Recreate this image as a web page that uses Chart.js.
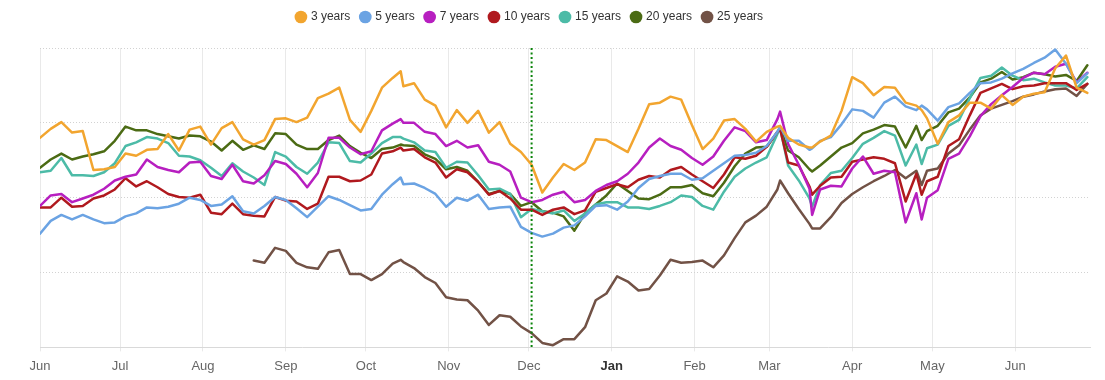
<!DOCTYPE html>
<html>
<head>
<meta charset="utf-8">
<script src="https://cdn.jsdelivr.net/npm/chart.js@4.4.0/dist/chart.umd.min.js"></script>
<style>
html,body{margin:0;padding:0;background:#ffffff;}
canvas{display:block;}
</style>
</head>
<body>
<canvas id="c" width="1105" height="380"></canvas>
<script>
// ---- data (day offsets from 1 June) ----
const days = [0,4,8,12,16,20,24,28,32,36,40,44,48,52,56,60,64,68,72,76,80,84,88,92,96,100,104,108,112,116,120,124,128,132,135,136,140,144,148,152,156,160,164,168,172,176,180,184,188,192,196,200,204,208,212,216,220,224,228,232,236,240,244,248,252,256,260,264,268,272,276,277,280,284,288,289,292,296,300,304,308,312,316,320,324,328,330,332,336,340,344,348,352,356,360,364,368,372,376,380,384,388,392];

const monthDays = [0,30,61,92,122,153,183,214,245,273,304,334,365];
const monthLabels = ['Jun','Jul','Aug','Sep','Oct','Nov','Dec','Jan','Feb','Mar','Apr','May','Jun'];
const boldLabel = 'Jan';
const markerDay = 184;

const seriesNames = ['3 years','5 years','7 years','10 years','15 years','20 years','25 years'];

const y3 = [2.80,2.92,3.01,2.87,2.89,2.37,2.38,2.41,2.59,2.56,2.64,2.65,2.85,2.63,2.91,2.95,2.71,2.93,3.01,2.78,2.71,2.77,3.05,3.06,3.01,3.07,3.33,3.39,3.47,3.04,2.88,3.16,3.47,3.60,
  3.69,
  3.49,3.53,3.31,3.23,2.94,3.17,3.00,3.16,2.87,3.01,2.72,2.61,2.44,2.07,2.27,2.45,2.37,2.47,2.78,2.77,2.69,2.61,2.92,3.25,3.27,3.35,3.31,2.97,2.65,2.79,3.03,3.05,2.92,2.75,2.88,2.95,
  2.96,
  2.80,2.71,2.67,
  2.67,
  2.75,2.83,3.16,3.61,3.53,3.37,3.48,3.47,3.27,3.23,
  3.17,
  3.06,2.72,3.01,3.10,3.27,3.27,3.19,3.37,3.24,3.35,3.39,3.41,3.73,3.90,3.47,3.40];

const y5 = [1.52,1.69,1.77,1.71,1.77,1.71,1.66,1.67,1.75,1.79,1.87,1.86,1.88,1.92,2.00,1.97,1.89,1.91,2.02,1.82,1.79,1.89,2.01,1.97,1.86,1.74,1.88,2.02,1.97,1.90,1.83,1.85,2.04,2.18,
  2.27,
  2.18,2.19,2.13,2.05,1.88,2.00,1.96,2.04,1.85,1.87,1.88,1.61,1.53,1.48,1.52,1.60,1.63,1.75,1.89,1.90,1.84,1.95,2.13,2.25,2.29,2.32,2.32,2.24,2.26,2.36,2.46,2.56,2.57,2.60,2.69,2.88,
  2.95,
  2.76,2.76,2.64,
  2.66,
  2.76,2.81,2.98,3.18,3.16,3.07,3.27,3.35,3.22,3.17,
  3.23,
  3.18,3.03,3.21,3.26,3.40,3.53,3.54,3.59,3.66,3.72,3.80,3.87,3.98,3.79,3.53,3.66];

const y7 = [1.89,2.03,2.05,1.94,1.99,2.04,2.12,2.23,2.28,2.31,2.51,2.41,2.37,2.34,2.47,2.48,2.29,2.25,2.44,2.22,2.19,2.30,2.49,2.45,2.32,2.14,2.33,2.80,2.80,2.67,2.58,2.62,2.90,2.99,
  3.05,
  3.00,3.00,2.88,2.85,2.69,2.76,2.67,2.70,2.48,2.44,2.35,2.00,1.94,1.97,2.04,2.08,1.94,1.97,2.09,2.17,2.22,2.32,2.47,2.67,2.79,2.69,2.64,2.53,2.44,2.55,2.76,2.94,2.89,2.74,2.77,3.05,
  3.15,
  2.72,2.44,2.12,
  1.77,
  2.11,2.16,2.15,2.39,2.55,2.32,2.36,2.34,1.67,2.06,
  1.71,
  2.00,2.10,2.52,2.59,2.82,3.09,3.25,3.37,3.48,3.60,3.67,3.65,3.75,3.79,3.54,3.67];

const y10 = [1.87,1.87,2.00,1.88,1.89,1.99,2.03,2.11,2.26,2.15,2.22,2.14,2.05,2.01,2.00,2.04,1.80,1.78,1.92,1.78,1.76,1.75,2.01,1.96,1.95,1.85,1.92,2.28,2.28,2.22,2.23,2.31,2.59,2.62,
  2.67,
  2.63,2.65,2.54,2.47,2.27,2.38,2.34,2.21,2.04,2.09,1.99,1.84,1.84,1.77,1.84,1.87,1.78,1.83,2.08,2.13,2.18,2.14,2.24,2.29,2.27,2.37,2.41,2.31,2.22,2.13,2.31,2.54,2.52,2.56,2.68,2.88,
  2.92,
  2.47,2.43,2.15,
  2.04,
  2.16,2.27,2.28,2.48,2.51,2.54,2.52,2.46,1.95,2.32,
  2.04,
  2.22,2.28,2.69,2.78,3.10,3.40,3.46,3.52,3.45,3.49,3.50,3.53,3.53,3.53,3.44,3.52];

const y15 = [2.34,2.36,2.53,2.30,2.30,2.29,2.34,2.46,2.69,2.74,2.81,2.79,2.73,2.56,2.55,2.50,2.40,2.29,2.46,2.35,2.27,2.17,2.61,2.55,2.41,2.32,2.47,2.74,2.73,2.49,2.47,2.59,2.73,2.81,
  2.81,
  2.79,2.74,2.63,2.61,2.40,2.48,2.47,2.30,2.11,2.12,2.05,1.74,1.85,1.82,1.79,1.83,1.69,1.79,1.91,1.94,1.94,1.87,1.87,1.85,1.89,1.94,2.03,2.01,1.89,1.84,2.08,2.28,2.39,2.47,2.54,2.85,
  2.93,
  2.43,2.23,1.99,
  1.88,
  2.17,2.33,2.36,2.53,2.72,2.80,2.89,2.83,2.43,2.71,
  2.45,
  2.66,2.71,2.96,3.04,3.33,3.60,3.63,3.74,3.63,3.57,3.59,3.54,3.50,3.50,3.46,3.61];

const y20 = [2.40,2.51,2.59,2.51,2.55,2.58,2.62,2.76,2.95,2.90,2.90,2.85,2.82,2.79,2.83,2.82,2.75,2.63,2.76,2.64,2.70,2.65,2.86,2.85,2.71,2.65,2.65,2.77,2.83,2.69,2.60,2.53,2.65,2.67,
  2.71,
  2.70,2.69,2.58,2.52,2.38,2.41,2.36,2.21,2.05,2.09,2.05,1.89,1.94,1.82,1.80,1.75,1.56,1.79,1.91,2.03,2.19,2.09,1.99,1.98,2.04,2.14,2.14,2.17,2.06,2.02,2.20,2.42,2.59,2.67,2.68,2.87,
  2.94,
  2.63,2.54,2.38,
  2.35,
  2.43,2.55,2.67,2.73,2.86,2.91,2.97,2.95,2.67,2.96,
  2.77,
  2.89,2.96,3.14,3.19,3.34,3.54,3.59,3.68,3.58,3.61,3.67,3.65,3.62,3.64,3.56,3.77];

const y25 = [null,null,null,null,null,null,null,null,null,null,null,null,null,null,null,null,null,null,null,null,
  1.16,1.13,1.33,1.29,1.13,1.07,1.05,1.27,1.30,0.98,0.98,0.90,0.98,1.12,
  1.17,
  1.14,1.06,0.94,0.86,0.67,0.64,0.63,0.49,0.30,0.43,0.41,0.28,0.19,0.06,0.03,0.11,0.11,0.27,0.63,0.72,0.95,0.88,0.76,0.78,0.96,1.17,1.13,1.14,1.16,1.07,1.23,1.46,1.67,1.76,1.88,2.11,
  2.23,
  2.06,1.85,1.65,
  1.59,
  1.59,1.74,1.93,2.05,2.14,2.22,2.29,2.37,2.26,2.36,
  2.17,
  2.36,2.39,2.59,2.70,2.91,3.10,3.19,3.24,3.29,3.35,3.38,3.42,3.45,3.46,3.36,3.52];

const seriesValues = [y3, y5, y7, y10, y15, y20, y25];

// ---- styles ----
const colors = ['#f2a52f','#6ba3e3','#b71fc0','#b0191e','#4cbba7','#4b6b14','#725246'];
const LEGEND_DX = -35;
const LEGEND_EXTRA = 15;

Chart.defaults.font.family = '"Liberation Sans", Arial, Helvetica, sans-serif';

const legendTweak = {
  id: 'legendTweak',
  beforeLayout(chart) {
    const lg = chart.legend;
    if (lg && !lg._patched) {
      const orig = lg.fit;
      lg.fit = function () { orig.call(this); this.height += LEGEND_EXTRA; };
      lg._patched = true;
    }
  },
  afterLayout(chart) {
    const lg = chart.legend;
    if (lg) { lg.left += LEGEND_DX; lg.right += LEGEND_DX; }
  }
};

const markerLine = {
  id: 'markerLine',
  afterDatasetsDraw(chart) {
    const {ctx, chartArea, scales} = chart;
    const px = scales.x.getPixelForValue(markerDay);
    ctx.save();
    ctx.strokeStyle = '#0b840b';
    ctx.lineWidth = 2;
    ctx.setLineDash([2, 2.5]);
    ctx.beginPath();
    ctx.moveTo(px, chartArea.top);
    ctx.lineTo(px, chartArea.bottom);
    ctx.stroke();
    ctx.restore();
  }
};

const isBold = (c) => c.tick && monthLabels[monthDays.indexOf(c.tick.value)] === boldLabel;

new Chart(document.getElementById('c'), {
  type: 'line',
  data: {
    datasets: seriesNames.map((name, i) => ({
      label: name,
      data: days.map((d, j) => ({x: d, y: seriesValues[i][j]})),
      borderColor: colors[i],
      backgroundColor: colors[i],
      borderWidth: 2.5,
      pointRadius: 0,
      pointHoverRadius: 0,
      tension: 0,
      borderJoinStyle: 'round',
      borderCapStyle: 'round',
      spanGaps: false
    }))
  },
  options: {
    responsive: false,
    animation: false,
    layout: { padding: { top: 0, left: 40, right: 15, bottom: -1 } },
    plugins: {
      tooltip: { enabled: false },
      legend: {
        position: 'top',
        align: 'center',
        labels: {
          usePointStyle: true,
          pointStyle: 'circle',
          boxWidth: 8,
          boxHeight: 9,
          padding: 11,
          color: '#333333',
          font: { size: 12 },
          generateLabels: (chart) =>
            Chart.defaults.plugins.legend.labels.generateLabels(chart).map(l => ({...l, lineWidth: 0}))
        }
      }
    },
    scales: {
      x: {
        type: 'linear',
        min: 0,
        max: 393,
        afterBuildTicks: (s) => { s.ticks = monthDays.map(v => ({value: v})); },
        ticks: {
          autoSkip: false,
          maxRotation: 0,
          padding: 7,
          callback: (v) => { const k = monthDays.indexOf(v); return k >= 0 ? monthLabels[k] : ''; },
          color: (c) => isBold(c) ? '#333333' : '#666666',
          font: (c) => ({ size: 13, weight: isBold(c) ? 'bold' : 'normal' })
        },
        grid: { color: '#e9e9e9', lineWidth: 1, drawTicks: true, tickLength: 4 },
        border: { display: true, color: '#d9d9d9', width: 1 }
      },
      y: {
        min: 0,
        max: 4,
        ticks: { display: false, stepSize: 1 },
        grid: { color: '#d2d2d2', lineWidth: 1, drawTicks: false },
        border: { display: false, dash: [1, 2] }
      }
    }
  },
  plugins: [legendTweak, markerLine]
});
</script>
</body>
</html>
